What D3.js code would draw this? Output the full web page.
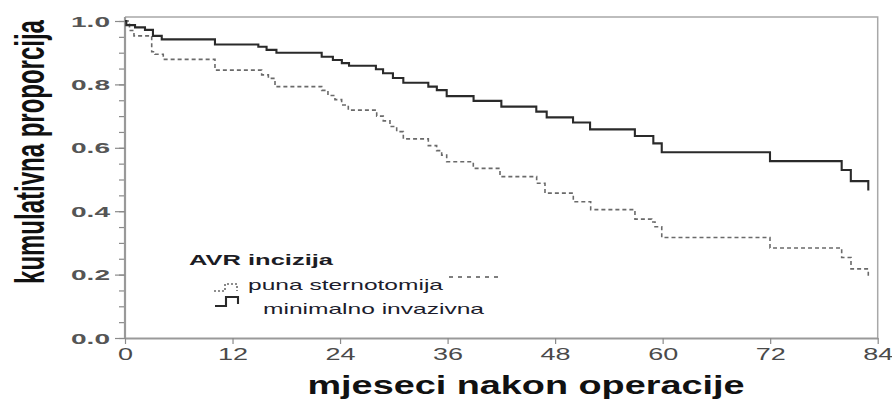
<!DOCTYPE html>
<html>
<head>
<meta charset="utf-8">
<script src="https://cdn.jsdelivr.net/npm/d3@7/dist/d3.min.js"></script>
<style>
  html, body { margin: 0; padding: 0; background: #fff; }
  svg { display: block; }
</style>
</head>
<body>
<svg id="chart" width="892" height="401"></svg>
<script>
// Kaplan–Meier survival by AVR incision type (step times in months, survival proportion)
const punaMonths = [0, 0.5, 1.0, 2.98, 3.35, 4.27, 10.04, 15.25, 16.0, 16.74, 21.95, 22.65, 23.43, 24.18, 24.92,
  28.09, 28.82, 29.57, 30.32, 31.06, 33.85, 34.78, 35.34, 35.9, 38.87, 41.85, 45.94, 46.87, 50.03, 51.97,
  56.91, 58.78, 59.15, 59.9, 71.98, 79.98, 81.02, 82.95];
const punaSurvival = [1.0, 0.97, 0.953, 0.903, 0.895, 0.879, 0.845, 0.830, 0.819, 0.793, 0.781, 0.765, 0.752, 0.735, 0.719,
  0.700, 0.685, 0.667, 0.651, 0.628, 0.607, 0.591, 0.577, 0.556, 0.535, 0.509, 0.488, 0.457, 0.430, 0.405,
  0.375, 0.366, 0.351, 0.317, 0.284, 0.254, 0.218, 0.191];

const minMonths = [0, 0.15, 1.12, 2.23, 3.12, 4.1, 10.04, 14.88, 15.8, 16.9, 21.95, 23.2, 24.2, 25.0, 28.0, 28.8,
  29.9, 31.06, 33.85, 34.8, 35.9, 38.9, 42.0, 45.9, 47.06, 50.0, 51.9, 56.9, 58.96, 59.9, 71.98, 79.98, 81.0, 82.95];
const minSurvival = [1.0, 0.987, 0.980, 0.972, 0.953, 0.942, 0.926, 0.919, 0.909, 0.900, 0.887, 0.877, 0.867, 0.859, 0.848, 0.835,
  0.820, 0.805, 0.793, 0.782, 0.763, 0.748, 0.730, 0.714, 0.696, 0.680, 0.658, 0.637, 0.614, 0.586, 0.558, 0.530, 0.495, 0.465];

const xTicks = [0, 12, 24, 36, 48, 60, 72, 84];
const yTicks = [0, 0.2, 0.4, 0.6, 0.8, 1.0];
const yMinorTicks = d3.range(0, 1.0001, 0.05);

const xTitle = "mjeseci nakon operacije";
const yTitle = "kumulativna proporcija";
const legendTitle = "AVR incizija";
const seriesNames = ["puna sternotomija", "minimalno invazivna"];

const svg = d3.select("#chart");
const FONT = "'Liberation Sans', Arial, sans-serif";

const plot = { left: 125, right: 877.7, top: 17, bottom: 338 };
const x = d3.scaleLinear().domain([0, 84]).range([plot.left, plot.right]);
const y = d3.scaleLinear().domain([0, 1]).range([plot.bottom, 21]);

// frame (top and right)
svg.append("path")
  .attr("d", `M${plot.left},${plot.top}H${plot.right}V${plot.bottom}`)
  .attr("fill", "none").attr("stroke", "#a8a8a8").attr("stroke-width", 1.5);

// minor y ticks
svg.append("g")
  .attr("transform", `translate(${plot.left},0)`)
  .call(d3.axisLeft(y).tickValues(yMinorTicks).tickSize(6).tickSizeOuter(0).tickFormat(""))
  .call(g => g.select(".domain").remove())
  .call(g => g.selectAll("line").attr("stroke", "#8a8a8a").attr("stroke-width", 1.2));

// y axis
svg.append("g")
  .attr("transform", `translate(${plot.left},0)`)
  .call(d3.axisLeft(y).tickValues(yTicks).tickSize(10).tickPadding(5).tickSizeOuter(0).tickFormat(d3.format(".1f")))
  .call(g => g.select(".domain").attr("stroke", "#999").attr("stroke-width", 2.2)
    .attr("d", `M0,${plot.top}V${plot.bottom + 1}`))
  .call(g => g.selectAll("line").attr("stroke", "#8a8a8a").attr("stroke-width", 1.2))
  .call(g => g.selectAll("text")
    .attr("font-family", FONT).attr("font-size", 14).attr("font-weight", "bold")
    .attr("fill", "#555").attr("dy", 0).attr("y", 5)
    .attr("textLength", 39).attr("lengthAdjust", "spacingAndGlyphs"));

// x axis
svg.append("g")
  .attr("transform", `translate(0,${plot.bottom})`)
  .call(d3.axisBottom(x).tickValues(xTicks).tickSize(6).tickSizeOuter(0))
  .call(g => g.select(".domain").attr("stroke", "#999").attr("stroke-width", 2.2))
  .call(g => g.selectAll("line").attr("stroke", "#8a8a8a").attr("stroke-width", 1.2))
  .call(g => g.selectAll("text")
    .attr("font-family", FONT).attr("font-size", 16)
    .attr("fill", "#4a4a4a").attr("dy", 0).attr("y", 22)
    .attr("textLength", d => String(d).length * 15).attr("lengthAdjust", "spacingAndGlyphs"));

// survival curves
const stepLine = d3.line().x(d => x(d[0])).y(d => y(d[1])).curve(d3.curveStepAfter);
const punaData = punaMonths.map((t, i) => [t, punaSurvival[i]]);
const minData = minMonths.map((t, i) => [t, minSurvival[i]]);

svg.append("path")
  .attr("d", stepLine(punaData))
  .attr("fill", "none").attr("stroke", "#6a6a6a").attr("stroke-width", 1.6)
  .attr("stroke-dasharray", "4,3");

svg.append("path")
  .attr("d", stepLine(minData))
  .attr("fill", "none").attr("stroke", "#2a2a2a").attr("stroke-width", 2.1);

// legend
const legend = svg.append("g");
legend.append("text")
  .attr("x", 189).attr("y", 265)
  .attr("font-family", FONT).attr("font-size", 15).attr("font-weight", "bold").attr("fill", "#1c1c24")
  .attr("textLength", 144).attr("lengthAdjust", "spacingAndGlyphs")
  .text(legendTitle);
legend.append("text")
  .attr("x", 248).attr("y", 290)
  .attr("font-family", FONT).attr("font-size", 15).attr("fill", "#1c1c2c")
  .attr("textLength", 195).attr("lengthAdjust", "spacingAndGlyphs")
  .text(seriesNames[0]);
legend.append("text")
  .attr("x", 263).attr("y", 314)
  .attr("font-family", FONT).attr("font-size", 15).attr("fill", "#1c1c2c")
  .attr("textLength", 221).attr("lengthAdjust", "spacingAndGlyphs")
  .text(seriesNames[1]);

// legend symbols
legend.append("path")
  .attr("d", "M214,291H225V284H237V291")
  .attr("fill", "none").attr("stroke", "#6a6a6a").attr("stroke-width", 1.6).attr("stroke-dasharray", "2,2");
legend.append("path")
  .attr("d", "M215,306H226V297H238V304")
  .attr("fill", "none").attr("stroke", "#2a2a2a").attr("stroke-width", 2.1);
legend.append("line")
  .attr("x1", 449).attr("x2", 498).attr("y1", 277).attr("y2", 277)
  .attr("stroke", "#555").attr("stroke-width", 1.5).attr("stroke-dasharray", "4,5");

// axis titles
svg.append("text")
  .attr("x", 526).attr("y", 394)
  .attr("text-anchor", "middle")
  .attr("font-family", FONT).attr("font-size", 25).attr("font-weight", "bold").attr("fill", "#111")
  .attr("textLength", 437).attr("lengthAdjust", "spacingAndGlyphs")
  .text(xTitle);

// condensed vertical title: squeeze the natural run to the target length
const yTitleText = svg.append("text")
  .attr("text-anchor", "middle")
  .attr("font-family", FONT).attr("font-size", 40).attr("font-weight", "bold").attr("fill", "#111")
  .text(yTitle);
const naturalLen = yTitleText.node().getComputedTextLength();
const squeeze = 264 / naturalLen;
yTitleText.attr("transform", `translate(44,152) rotate(-90) scale(${squeeze},1)`);
</script>
</body>
</html>
